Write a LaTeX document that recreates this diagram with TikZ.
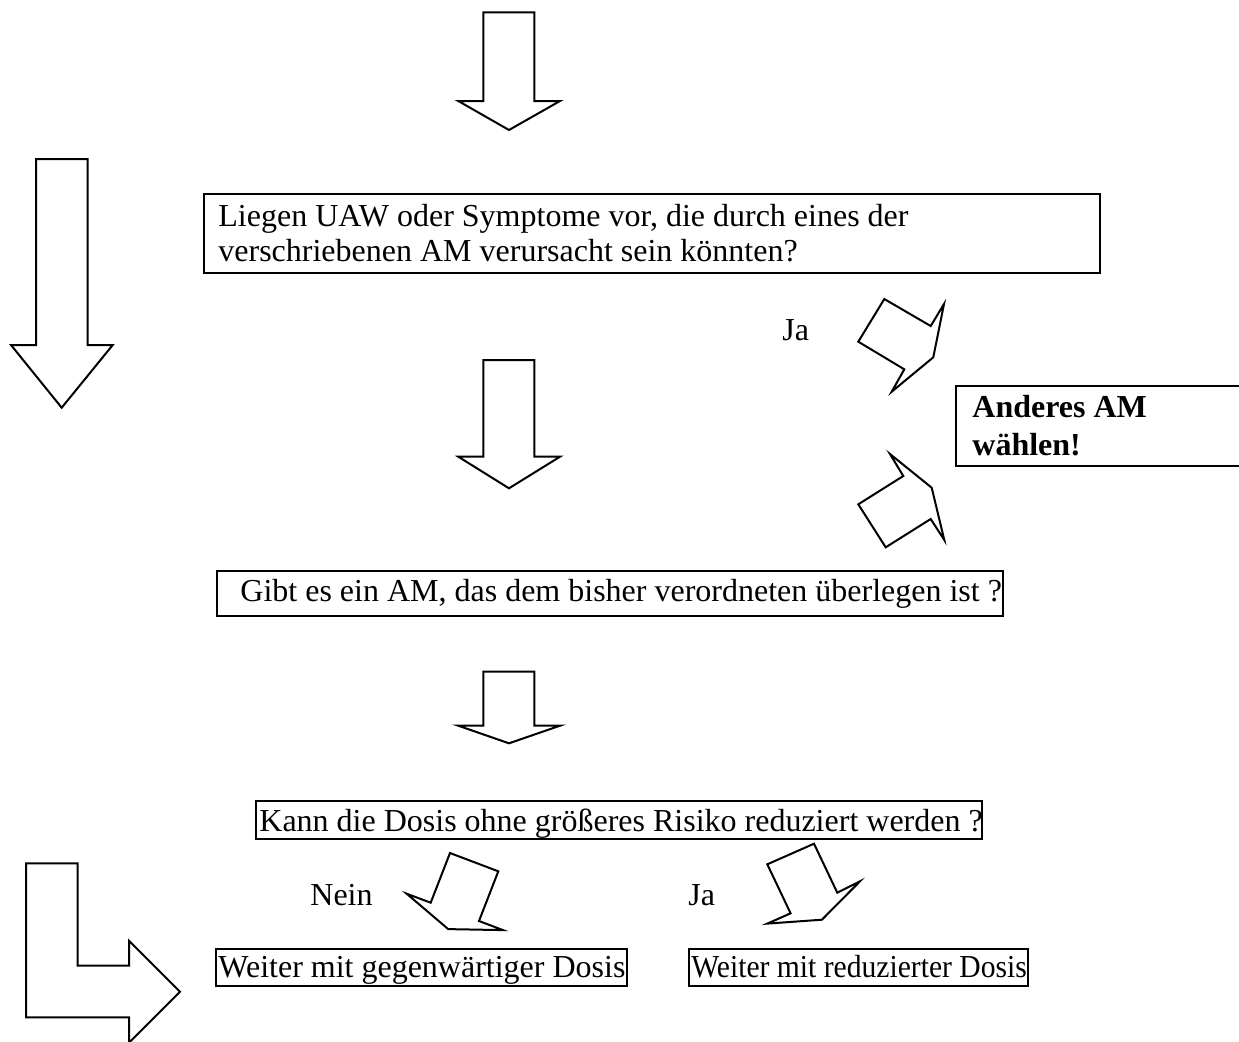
\documentclass[tikz,border=0pt]{standalone}
\usepackage{fontspec}
\setmainfont{Liberation Serif}
\newfontfamily\narrowserif[FakeStretch=0.925]{Liberation Serif}
\begin{document}
\begin{tikzpicture}[x=0.5pt,y=-0.5pt,
  arr/.style={draw=black, line width=1pt, line join=miter, fill=white},
  box/.style={draw=black, line width=1.1pt, inner sep=0pt, anchor=north west},
  txt/.style={inner sep=0pt, anchor=base west, font=\fontsize{16}{18.4}\selectfont},
  btxt/.style={txt, font=\fontsize{16}{18.4}\selectfont\bfseries}]
\useasboundingbox (0,0) rectangle (1239,1041);

% boxes
\node[box, minimum width=448pt, minimum height=39.5pt] (q1) at (203,193) {};
\node[box, minimum width=145pt, minimum height=40pt] (alt) at (955,385) {};
\node[box, minimum width=393pt, minimum height=22.5pt] (q2) at (216,570) {};
\node[box, minimum width=363pt, minimum height=19pt] (q3) at (255,800) {};
\node[box, minimum width=205.5pt, minimum height=18.5pt] (w1) at (215,948) {};
\node[box, minimum width=169.5pt, minimum height=18.5pt] (w2) at (688,948) {};

% texts
\node[txt] (q1a) at (218,226) {Liegen UAW oder Symptome vor, die durch eines der};
\node[txt] (q1b) at (218,261) {verschriebenen AM verursacht sein könnten?};
\node[btxt] (alta) at (972,417) {Anderes AM};
\node[btxt] (altb) at (972,455) {wählen!};
\node[txt] (ja1) at (782,340) {Ja};
\node[txt] (q2t) at (240,601) {Gibt es ein AM, das dem bisher verordneten überlegen ist ?};
\node[txt] (q3t) at (259,831) {Kann die Dosis ohne größeres Risiko reduziert werden ?};
\node[txt] (nein) at (310,905) {Nein};
\node[txt] (ja2) at (688,905) {Ja};
\node[txt] (w1t) at (218,977) {Weiter mit gegenwärtiger Dosis};
\node[txt, font=\fontsize{16}{18.4}\narrowserif] (w2t) at (691,977) {Weiter mit reduzierter Dosis};

% block arrows
\draw[arr] (483.3,12.3) -- (534.3,12.3) -- (534.3,101) -- (560,101) -- (509,130) -- (458.3,101) -- (483.3,101) -- cycle;
\draw[arr] (36,159) -- (87.7,159) -- (87.7,345) -- (112.7,345) -- (61.7,407.7) -- (11,345) -- (36,345) -- cycle;
\draw[arr] (483.3,360) -- (534.3,360) -- (534.3,456.7) -- (560,456.7) -- (509,488.3) -- (458.3,456.7) -- (483.3,456.7) -- cycle;
\draw[arr] (483.3,671.7) -- (534.3,671.7) -- (534.3,725.7) -- (560,725.7) -- (509,743.3) -- (458.3,725.7) -- (483.3,725.7) -- cycle;
% Ja -> Anderes AM
\draw[arr] (884.3,299) -- (930.7,326) -- (944,304) -- (933.3,357.3) -- (891.7,391.7) -- (904.3,369.3) -- (858.3,341.7) -- cycle;
% towards Anderes AM from below
\draw[arr] (890,454) -- (931.7,487.7) -- (944.3,540) -- (930.7,519) -- (885.7,547.3) -- (858.3,504.3) -- (903.3,476) -- cycle;
% Nein arrow
\draw[arr] (450,853) -- (498.3,871.3) -- (479,921) -- (503,930.1) -- (448.2,929.1) -- (406.7,893.7) -- (430.7,902.7) -- cycle;
% Ja arrow bottom
\draw[arr] (767.3,864.3) -- (814,843.7) -- (837.3,892.7) -- (860,881.3) -- (821.9,919.7) -- (767.3,923.6) -- (790.6,913.3) -- cycle;
% L arrow
\draw[arr] (26,863.3) -- (77.7,863.3) -- (77.7,965.7) -- (129,965.7) -- (129,940.7) -- (180,991.7) -- (129,1042.7) -- (129,1017.3) -- (26,1017.3) -- cycle;
\end{tikzpicture}
\end{document}
